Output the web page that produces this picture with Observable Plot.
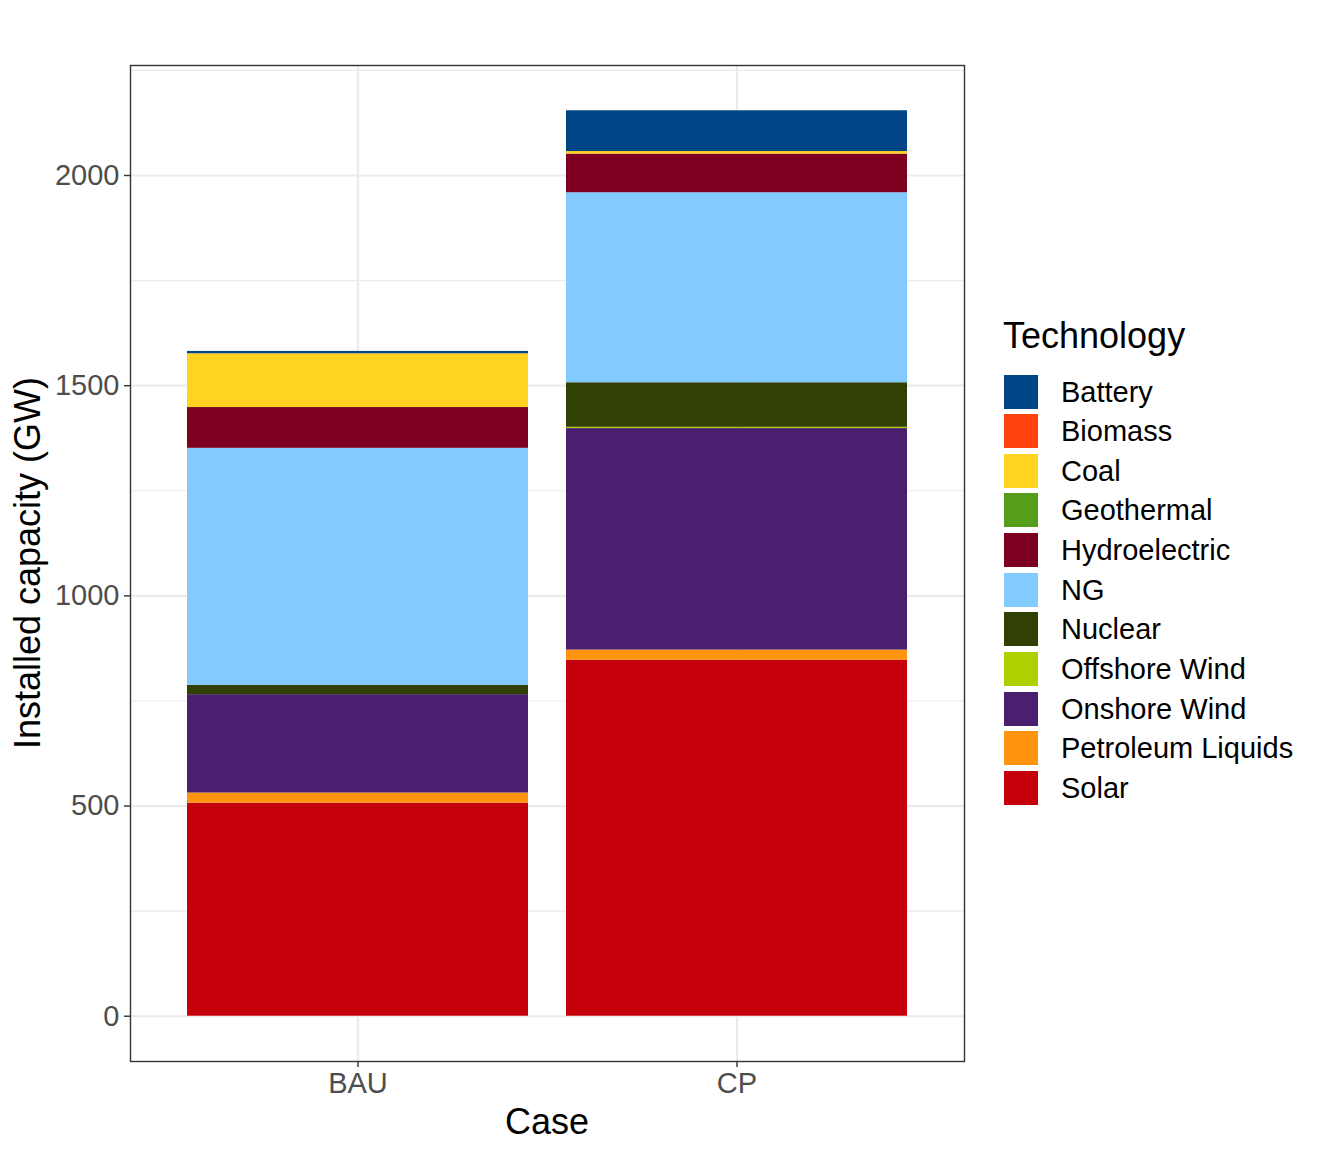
<!DOCTYPE html>
<html>
<head>
<meta charset="utf-8">
<script src="https://cdn.jsdelivr.net/npm/d3@7"></script>
<script src="https://cdn.jsdelivr.net/npm/@observablehq/plot@0.6"></script>
<style>
  html, body { margin: 0; padding: 0; background: #fff; }
  #wrap { position: relative; width: 1320px; height: 1155px; font-family: "Liberation Sans", Helvetica, Arial, sans-serif; }
  #legend { position: absolute; left: 1003px; top: 0; }
  #legend .title { position: absolute; left: 0; top: 314px; font-size: 36px; color: #000; white-space: nowrap; line-height: 44px; }
  #legend .row { position: absolute; left: 0; height: 37px; white-space: nowrap; }
  #legend .key { position: absolute; left: 0; top: 0; width: 36px; height: 36px; box-sizing: border-box; border: 1px solid #fff; }
  #legend .lab { position: absolute; left: 58px; top: 0; font-size: 29px; line-height: 37px; color: #000; }
</style>
</head>
<body>
<div id="wrap"><div id="chart"></div><div id="legend"></div></div>
<script>
// ---- data ----
const cases = ["BAU", "CP"];
const technologies = ["Battery", "Biomass", "Coal", "Geothermal", "Hydroelectric", "NG", "Nuclear", "Offshore Wind", "Onshore Wind", "Petroleum Liquids", "Solar"];
const bauValues = [5.5, 0, 128, 0, 97, 564, 22, 0, 234, 24, 507];
const cpValues  = [97, 0, 6, 0, 92, 452, 106, 3, 527, 24, 847];
const techColors = ["#004586", "#FF420E", "#FFD320", "#579D1C", "#7E0021", "#83CAFF", "#314004", "#AECF00", "#4B1F6F", "#FF950E", "#C5000B"];
const yTicks = [0, 500, 1000, 1500, 2000];
const yMinorTicks = [250, 750, 1250, 1750, 2250];

// ---- table (stacked bottom to top: Solar first) ----
const seriesByCase = {BAU: bauValues, CP: cpValues};
const rows = [];
for (const c of cases) {
  for (let i = technologies.length - 1; i >= 0; i--) {
    rows.push({case: c, tech: technologies[i], value: seriesByCase[c][i]});
  }
}
const totals = cases.map(c => d3.sum(seriesByCase[c]));
const ymax = d3.max(totals);
const pad = ymax * 0.05;

const W = 1320, H = 1155;
const mL = 130, mR = 356, mT = 65, mB = 94;

const chart = Plot.plot({
  width: W, height: H,
  marginLeft: mL, marginRight: mR, marginTop: mT, marginBottom: mB,
  style: {fontFamily: "Liberation Sans, Helvetica, Arial, sans-serif", fontSize: "29px", background: "#fff"},
  x: {domain: cases, type: "band", paddingInner: 0.1, paddingOuter: 0.1474, label: null},
  y: {domain: [-pad, ymax + pad], label: null},
  color: {domain: technologies, range: techColors},
  marks: [
    Plot.ruleY(yMinorTicks, {stroke: "#EBEBEB", strokeWidth: 1.1}),
    Plot.gridY(yTicks, {stroke: "#EBEBEB", strokeOpacity: 1, strokeWidth: 2.2}),
    Plot.gridX({stroke: "#EBEBEB", strokeOpacity: 1, strokeWidth: 2.2}),
    Plot.barY(rows, {x: "case", y: "value", fill: "tech", order: null}),
    Plot.frame({stroke: "#333333", strokeWidth: 1.4}),
    Plot.axisY(yTicks, {tickSize: 6, tickPadding: 5, tickFormat: d => String(d), stroke: "#333333", fill: "#4D4D4D", fontSize: 29, label: null, strokeWidth: 1.4}),
    Plot.axisX({tickSize: 6, tickPadding: 5, stroke: "#333333", fill: "#4D4D4D", fontSize: 29, label: null, strokeWidth: 1.4})
  ]
});
document.getElementById("chart").appendChild(chart);

// axis titles
const svg = d3.select(chart);
svg.append("text")
  .attr("transform", `translate(40, ${(mT + H - mB) / 2}) rotate(-90)`)
  .attr("text-anchor", "middle")
  .attr("font-size", 36)
  .attr("fill", "#000")
  .attr("font-family", "Liberation Sans, Helvetica, Arial, sans-serif")
  .text("Installed capacity (GW)");
svg.append("text")
  .attr("x", (mL + W - mR) / 2)
  .attr("y", 1134)
  .attr("text-anchor", "middle")
  .attr("font-size", 36)
  .attr("fill", "#000")
  .attr("font-family", "Liberation Sans, Helvetica, Arial, sans-serif")
  .text("Case");

// legend
const legend = document.getElementById("legend");
const t = document.createElement("div");
t.className = "title"; t.textContent = "Technology";
legend.appendChild(t);
technologies.forEach((name, i) => {
  const r = document.createElement("div");
  r.className = "row";
  r.style.top = (373.5 + i * 39.65) + "px";
  const k = document.createElement("div");
  k.className = "key"; k.style.background = techColors[i];
  const l = document.createElement("div");
  l.className = "lab"; l.textContent = name;
  r.appendChild(k); r.appendChild(l);
  legend.appendChild(r);
});
</script>
</body>
</html>
